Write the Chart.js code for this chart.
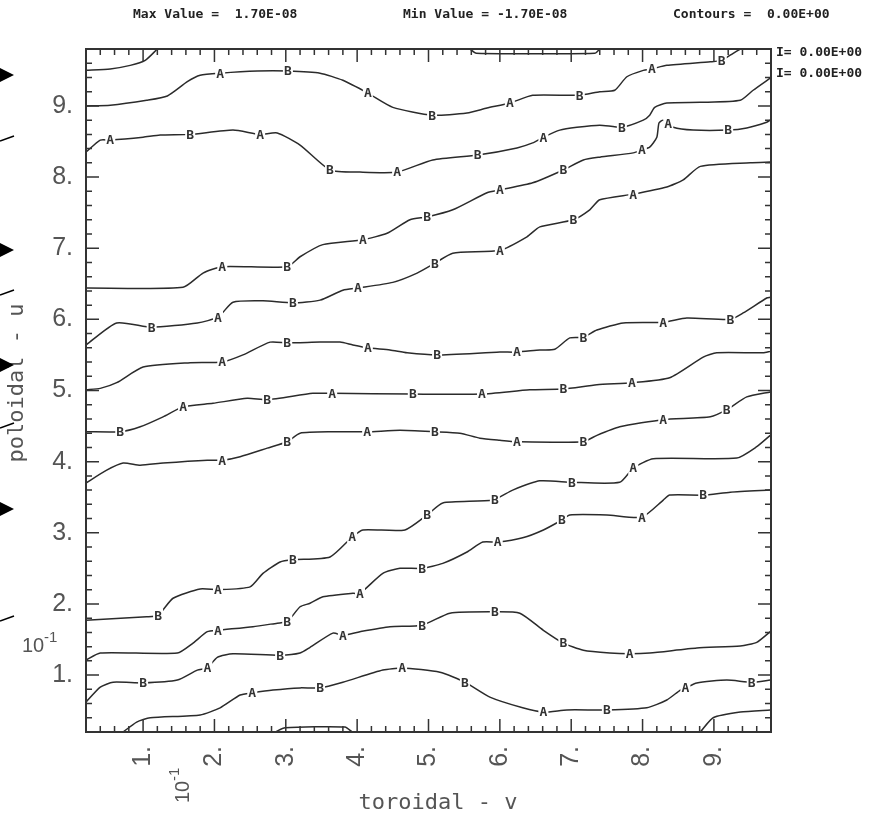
<!DOCTYPE html>
<html>
<head>
<meta charset="utf-8">
<script src="https://cdn.jsdelivr.net/npm/chart.js@4.4.1/dist/chart.umd.min.js"></script>
<style>
  html, body { margin: 0; padding: 0; background: #fff; }
  #wrap { width: 886px; height: 815px; }
</style>
</head>
<body>
<div id="wrap"><canvas id="plot" width="886" height="815"></canvas></div>
<script>
// axis ticks (units of 1e-1)
const majorTicks = [1, 2, 3, 4, 5, 6, 7, 8, 9];
const tickText   = ['1.', '2.', '3.', '4.', '5.', '6.', '7.', '8.', '9.'];

// zero contours, [toroidal v, poloidal u] pairs
const line01 = [[0.20,9.50],[0.54,9.52],[0.82,9.57],[1.03,9.64],[1.20,9.80]];
const line02 = [[0.20,9.00],[0.54,9.01],[1.05,9.08],[1.34,9.14],[1.62,9.34],[1.80,9.43],[2.08,9.46],[2.60,9.49],[3.03,9.49],[3.48,9.46],[3.80,9.36],[4.15,9.18],[4.50,8.98],[5.05,8.87],[5.54,8.90],[5.82,8.97],[6.14,9.04],[6.46,9.15],[7.12,9.15],[7.40,9.20],[7.61,9.22],[7.78,9.41],[8.01,9.50],[8.13,9.52],[8.34,9.57],[8.95,9.62],[9.11,9.64],[9.27,9.74],[9.37,9.80]];
const line03 = [[0.20,8.35],[0.40,8.52],[0.54,8.52],[1.00,8.56],[1.24,8.59],[1.66,8.60],[2.26,8.66],[2.64,8.60],[2.88,8.62],[3.20,8.45],[3.62,8.10],[4.04,8.07],[4.56,8.07],[5.06,8.24],[5.69,8.31],[6.24,8.41],[6.46,8.48],[6.61,8.56],[6.84,8.66],[7.08,8.70],[7.40,8.73],[7.71,8.70],[8.01,8.80],[8.10,8.87],[8.17,8.98],[8.34,9.04],[8.81,9.05],[9.37,9.08],[9.55,9.22],[9.79,9.39]];
const line04 = [[0.20,6.44],[1.56,6.45],[1.84,6.65],[2.11,6.74],[3.02,6.74],[3.20,6.88],[3.52,7.05],[4.08,7.12],[4.42,7.21],[4.74,7.40],[4.98,7.44],[5.34,7.54],[5.82,7.78],[6.00,7.82],[6.46,7.92],[6.89,8.10],[7.17,8.24],[7.40,8.28],[7.87,8.34],[7.99,8.38],[8.10,8.42],[8.20,8.56],[8.23,8.76],[8.29,8.80],[8.43,8.70],[8.71,8.66],[9.20,8.66],[9.46,8.69],[9.74,8.77],[9.79,8.80]];
const line05 = [[0.20,5.64],[0.63,5.95],[1.12,5.89],[1.76,5.95],[2.05,6.03],[2.26,6.24],[2.68,6.26],[3.10,6.23],[3.48,6.27],[3.80,6.41],[4.01,6.44],[4.50,6.52],[4.84,6.65],[5.09,6.79],[5.34,6.93],[6.00,6.97],[6.38,7.16],[6.56,7.30],[7.03,7.40],[7.26,7.54],[7.40,7.68],[7.87,7.76],[8.34,7.86],[8.57,7.96],[8.81,8.15],[9.51,8.20],[9.79,8.21]];
const line06 = [[0.20,5.01],[0.40,5.03],[0.63,5.11],[1.00,5.33],[1.66,5.39],[2.11,5.40],[2.40,5.50],[2.78,5.68],[3.02,5.67],[3.48,5.68],[3.76,5.68],[3.94,5.64],[4.15,5.60],[4.46,5.57],[4.70,5.53],[5.12,5.50],[6.00,5.54],[6.24,5.54],[6.56,5.57],[6.77,5.58],[6.98,5.74],[7.17,5.75],[7.36,5.85],[7.73,5.95],[8.29,5.96],[8.62,6.02],[9.23,6.00],[9.41,6.09],[9.74,6.30],[9.79,6.31]];
const line07 = [[0.20,4.42],[0.68,4.42],[0.96,4.49],[1.28,4.63],[1.56,4.77],[1.98,4.82],[2.46,4.89],[2.74,4.87],[3.38,4.96],[3.65,4.96],[4.78,4.95],[5.75,4.95],[6.42,5.01],[6.89,5.02],[7.36,5.08],[7.85,5.11],[8.38,5.18],[8.85,5.47],[9.04,5.53],[9.69,5.53],[9.79,5.55]];
const line08 = [[0.20,3.70],[0.49,3.88],[0.72,3.98],[0.96,3.95],[1.28,3.98],[1.90,4.02],[2.11,4.02],[2.36,4.07],[2.74,4.19],[3.02,4.28],[3.20,4.40],[3.66,4.42],[4.14,4.42],[4.60,4.44],[5.09,4.42],[5.44,4.40],[5.72,4.33],[6.00,4.30],[6.24,4.28],[7.17,4.28],[7.36,4.37],[7.68,4.49],[8.29,4.59],[8.95,4.63],[9.18,4.73],[9.46,4.91],[9.79,4.98]];
const line09 = [[0.20,1.77],[1.05,1.82],[1.21,1.84],[1.42,2.08],[1.80,2.21],[2.05,2.20],[2.50,2.24],[2.68,2.43],[2.92,2.59],[3.10,2.62],[3.62,2.66],[3.93,2.94],[4.08,3.04],[4.67,3.04],[4.98,3.25],[5.20,3.42],[5.90,3.46],[6.18,3.60],[6.56,3.73],[7.01,3.71],[7.68,3.71],[7.87,3.91],[8.15,4.04],[9.32,4.05],[9.60,4.21],[9.79,4.37]];
const line10 = [[0.20,1.21],[0.40,1.31],[1.48,1.31],[1.70,1.45],[1.90,1.61],[2.05,1.63],[2.54,1.68],[2.88,1.73],[3.02,1.75],[3.20,1.96],[3.34,2.01],[3.52,2.10],[3.94,2.15],[4.04,2.15],[4.36,2.43],[4.60,2.50],[4.91,2.50],[5.20,2.57],[5.54,2.73],[5.76,2.87],[5.97,2.87],[6.32,2.93],[6.61,3.04],[6.87,3.18],[6.98,3.25],[7.50,3.25],[7.99,3.22],[8.29,3.46],[8.38,3.53],[8.85,3.53],[9.23,3.57],[9.79,3.60]];
const line11 = [[0.20,0.62],[0.40,0.83],[0.58,0.90],[1.00,0.89],[1.48,0.93],[1.76,1.07],[1.90,1.10],[2.04,1.25],[2.26,1.30],[2.92,1.28],[3.20,1.31],[3.34,1.39],[3.66,1.59],[3.80,1.56],[4.04,1.61],[4.46,1.68],[4.91,1.70],[5.30,1.87],[5.93,1.89],[6.28,1.87],[6.61,1.63],[6.89,1.45],[7.17,1.35],[7.54,1.31],[7.82,1.30],[8.10,1.31],[8.76,1.38],[9.37,1.41],[9.60,1.46],[9.79,1.61]];
const line12 = [[0.72,0.20],[0.91,0.34],[1.10,0.40],[1.80,0.44],[2.08,0.54],[2.36,0.72],[2.53,0.75],[2.82,0.79],[3.20,0.82],[3.48,0.82],[3.80,0.90],[4.36,1.07],[4.63,1.10],[5.16,1.04],[5.51,0.90],[5.86,0.69],[6.32,0.54],[6.61,0.48],[6.94,0.51],[7.50,0.51],[8.06,0.54],[8.34,0.65],[8.53,0.79],[8.60,0.82],[8.76,0.89],[9.18,0.93],[9.53,0.90],[9.79,0.93]];
const line13 = [[8.81,0.20],[8.99,0.40],[9.37,0.48],[9.79,0.51]];
const line14 = [[2.85,0.20],[2.99,0.26],[3.83,0.27],[3.93,0.20]];
const line15 = [[5.58,9.80],[5.67,9.74],[7.33,9.74],[7.40,9.80]];

// contour letters along the lines: [letter, v, u]
const marks02 = [['A',2.08,9.46],['B',3.03,9.49],['A',4.15,9.18],['B',5.05,8.87],['A',6.14,9.04],['B',7.12,9.15],['A',8.13,9.52],['B',9.11,9.64]];
const marks03 = [['A',0.54,8.52],['B',1.66,8.60],['A',2.64,8.60],['B',3.62,8.10],['A',4.56,8.07],['B',5.69,8.31],['A',6.61,8.56],['B',7.71,8.70]];
const marks04 = [['A',2.11,6.74],['B',3.02,6.74],['A',4.08,7.12],['B',4.98,7.44],['A',6.00,7.82],['B',6.89,8.10],['A',7.99,8.38],['A',8.36,8.75],['B',9.20,8.66]];
const marks05 = [['B',1.12,5.89],['A',2.05,6.03],['B',3.10,6.23],['A',4.01,6.44],['B',5.09,6.79],['A',6.00,6.97],['B',7.03,7.40],['A',7.87,7.76]];
const marks06 = [['A',2.11,5.40],['B',3.02,5.67],['A',4.15,5.60],['B',5.12,5.50],['A',6.24,5.54],['B',7.17,5.75],['A',8.29,5.96],['B',9.23,6.00]];
const marks07 = [['B',0.68,4.42],['A',1.56,4.77],['B',2.74,4.87],['A',3.65,4.96],['B',4.78,4.95],['A',5.75,4.95],['B',6.89,5.02],['A',7.85,5.11]];
const marks08 = [['A',2.11,4.02],['B',3.02,4.28],['A',4.14,4.42],['B',5.09,4.42],['A',6.24,4.28],['B',7.17,4.28],['A',8.29,4.59],['B',9.18,4.73]];
const marks09 = [['B',1.21,1.84],['A',2.05,2.20],['B',3.10,2.62],['A',3.93,2.94],['B',4.98,3.25],['B',5.93,3.46],['B',7.01,3.71],['A',7.87,3.91]];
const marks10 = [['A',2.05,1.63],['B',3.02,1.75],['A',4.04,2.15],['B',4.91,2.50],['A',5.97,2.87],['B',6.87,3.18],['A',7.99,3.22],['B',8.85,3.53]];
const marks11 = [['B',1.00,0.89],['A',1.90,1.10],['B',2.92,1.28],['A',3.80,1.56],['B',4.91,1.70],['B',5.93,1.89],['B',6.89,1.45],['A',7.82,1.30]];
const marks12 = [['A',2.53,0.75],['B',3.48,0.82],['A',4.63,1.10],['B',5.51,0.90],['A',6.61,0.48],['B',7.50,0.51],['A',8.60,0.82],['B',9.53,0.90]];

const contours = [line01, line02, line03, line04, line05, line06, line07, line08,
                  line09, line10, line11, line12, line13, line14, line15];
const contourMarks = [marks02, marks03, marks04, marks05, marks06, marks07,
                      marks08, marks09, marks10, marks11, marks12];

const INK  = '#2b2b2b';
const TEXT = '#555';
const MONO = '"DejaVu Sans Mono", monospace';

// frame, inward ticks, contour letters and page annotations
const framePlugin = {
  id: 'frame',
  afterDraw(chart) {
    const { ctx, chartArea: a, scales: { x, y } } = chart;
    ctx.save();

    // letters sit in a gap cut into the line
    ctx.font = 'bold 13px ' + MONO;
    ctx.textAlign = 'center';
    ctx.textBaseline = 'middle';
    contourMarks.forEach(list => list.forEach(([t, v, u]) => {
      const px = x.getPixelForValue(v), py = y.getPixelForValue(u);
      ctx.fillStyle = '#fff';
      ctx.fillRect(px - 5, py - 7, 10, 14);
      ctx.fillStyle = '#333';
      ctx.fillText(t, px, py + 1);
    }));

    // frame
    ctx.strokeStyle = '#333';
    ctx.lineWidth = 2;
    ctx.strokeRect(a.left, a.top, a.right - a.left, a.bottom - a.top);

    // ticks every 0.2, longer on whole units
    ctx.lineWidth = 1.5;
    ctx.beginPath();
    for (let i = 2; i <= 48; i++) {
      const v = i / 5;
      const len = (i % 5 === 0) ? 13 : 6;
      const px = x.getPixelForValue(v), py = y.getPixelForValue(v);
      ctx.moveTo(px, a.bottom); ctx.lineTo(px, a.bottom - len);
      ctx.moveTo(px, a.top);    ctx.lineTo(px, a.top + len);
      ctx.moveTo(a.left, py);   ctx.lineTo(a.left + len, py);
      ctx.moveTo(a.right, py);  ctx.lineTo(a.right - len, py);
    }
    ctx.stroke();

    // exponent notes on both axes
    ctx.fillStyle = TEXT;
    ctx.textAlign = 'left';
    ctx.textBaseline = 'alphabetic';
    ctx.font = '20px "Liberation Sans"';
    ctx.fillText('10', 22, 652);
    ctx.font = '15px "Liberation Sans"';
    ctx.fillText('-1', 44, 642);
    ctx.save();
    ctx.translate(189, 803);
    ctx.rotate(-Math.PI / 2);
    ctx.font = '20px "Liberation Sans"';
    ctx.fillText('10', 0, 0);
    ctx.font = '15px "Liberation Sans"';
    ctx.fillText('-1', 22, -10);
    ctx.restore();

    // axis titles
    ctx.font = '22px ' + MONO;
    ctx.textAlign = 'center';
    ctx.textBaseline = 'middle';
    ctx.fillText('toroidal - v', 438, 803);
    ctx.save();
    ctx.translate(17, 383);
    ctx.rotate(-Math.PI / 2);
    ctx.fillText('poloidal - u', 0, 0);
    ctx.restore();

    // header and level legend
    ctx.fillStyle = '#222';
    ctx.font = 'bold 13px ' + MONO;
    ctx.textAlign = 'left';
    ctx.fillText('Max Value =  1.70E-08', 133, 15);
    ctx.fillText('Min Value = -1.70E-08', 403, 15);
    ctx.fillText('Contours =  0.00E+00', 673, 15);
    ctx.fillText('I= 0.00E+00', 776, 53);
    ctx.fillText('I= 0.00E+00', 776, 74);

    // bits of the neighbouring panel cut off at the left edge
    ctx.fillStyle = '#000';
    ctx.strokeStyle = '#000';
    [75, 250, 365, 509].forEach(cy => {
      ctx.beginPath();
      ctx.moveTo(0, cy - 7); ctx.lineTo(14, cy); ctx.lineTo(0, cy + 7);
      ctx.closePath(); ctx.fill();
    });
    ctx.lineWidth = 1.5;
    [138, 292, 425, 618].forEach(cy => {
      ctx.beginPath();
      ctx.moveTo(0, cy + 3); ctx.lineTo(14, cy - 2);
      ctx.stroke();
    });

    ctx.restore();
  }
};

const axisTicks = {
  type: 'linear', min: 0.2, max: 9.8,
  grid: { display: false, drawTicks: false },
  border: { display: false },
  afterBuildTicks: s => { s.ticks = majorTicks.map(v => ({ value: v })); }
};

new Chart(document.getElementById('plot'), {
  type: 'scatter',
  data: {
    datasets: contours.map(pts => ({
      data: pts.map(([v, u]) => ({ x: v, y: u })),
      showLine: true, fill: false,
      borderColor: INK, borderWidth: 1.5,
      pointRadius: 0, tension: 0.2
    }))
  },
  options: {
    responsive: false, animation: false,
    layout: { padding: { top: 49, right: 115, left: 0, bottom: 0 } },
    plugins: { legend: { display: false }, tooltip: { enabled: false } },
    scales: {
      x: {
        ...axisTicks,
        afterFit: s => { s.height = 83; },
        ticks: {
          autoSkip: false, minRotation: 90, maxRotation: 90, padding: 14,
          color: TEXT, font: { family: 'Liberation Sans', size: 25 },
          callback: v => tickText[majorTicks.indexOf(v)]
        }
      },
      y: {
        ...axisTicks,
        afterFit: s => { s.width = 86; },
        ticks: {
          autoSkip: false, padding: 13,
          color: TEXT, font: { family: 'Liberation Sans', size: 25 },
          callback: v => tickText[majorTicks.indexOf(v)]
        }
      }
    }
  },
  plugins: [framePlugin]
});
</script>
</body>
</html>
